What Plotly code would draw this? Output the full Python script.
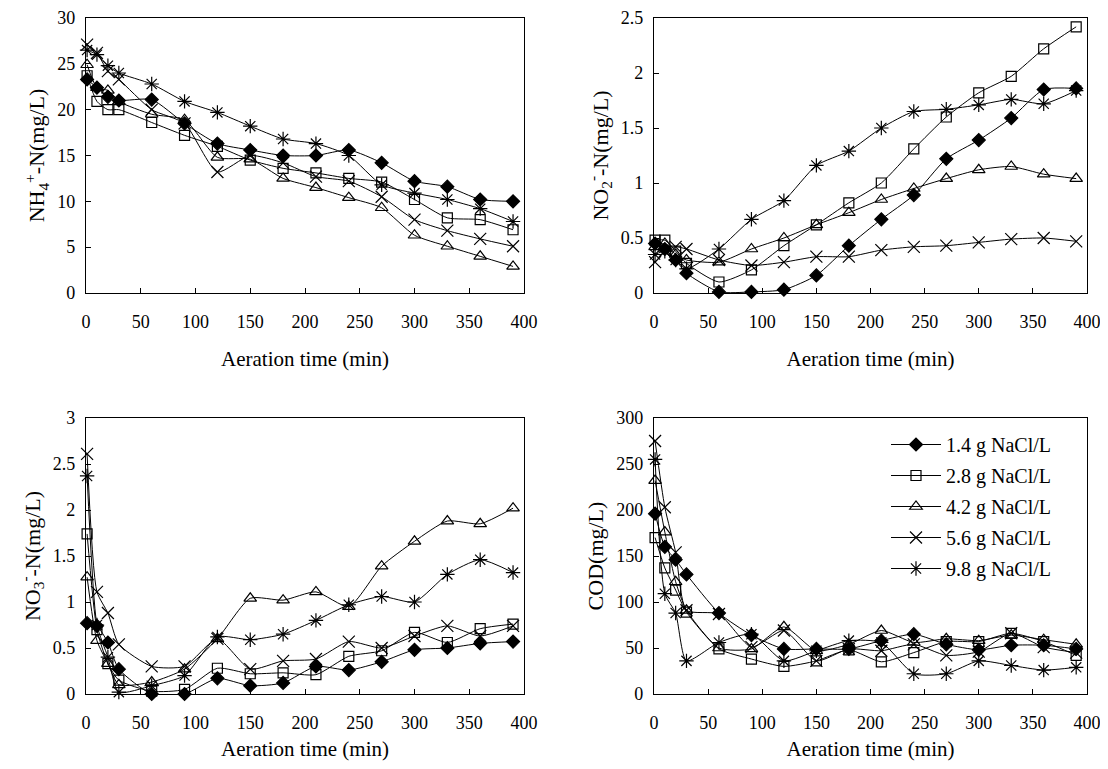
import plotly.graph_objects as go
from plotly.subplots import make_subplots

time_min = [1, 10, 20, 30, 60, 90, 120, 150, 180, 210, 240, 270, 300, 330, 360, 390]
series_names = ["1.4 g NaCl/L", "2.8 g NaCl/L", "4.2 g NaCl/L", "5.6 g NaCl/L", "9.8 g NaCl/L"]

nh4 = [
    [23.3, 22.4, 21.4, 21.0, 21.1, 18.5, 16.3, 15.6, 15.0, 15.0, 15.6, 14.2, 12.2, 11.6, 10.2, 10.0],
    [23.7, 20.9, 20.0, 20.0, 18.6, 17.2, 16.0, 14.5, 13.6, 13.1, 12.5, 12.1, 10.2, 8.2, 8.0, 6.9],
    [24.9, 22.4, 22.1, 20.9, 19.5, 18.9, 14.8, 14.6, 12.5, 11.5, 10.4, 9.3, 6.3, 5.1, 4.0, 2.9],
    [27.1, 26.2, 24.2, 23.3, 20.0, 18.5, 13.2, 15.0, 14.2, 12.7, 12.2, 10.5, 8.0, 6.8, 5.9, 5.1],
    [26.5, 26.0, 24.8, 24.0, 22.8, 20.9, 19.7, 18.2, 16.8, 16.3, 15.0, 11.8, 10.9, 10.2, 9.2, 7.8],
]
no2 = [
    [0.45, 0.40, 0.30, 0.18, 0.01, 0.01, 0.03, 0.16, 0.43, 0.67, 0.89, 1.22, 1.39, 1.59, 1.85, 1.86],
    [0.48, 0.48, 0.38, 0.27, 0.10, 0.21, 0.43, 0.62, 0.82, 1.00, 1.31, 1.60, 1.82, 1.97, 2.22, 2.42],
    [0.42, 0.45, 0.35, 0.30, 0.28, 0.40, 0.50, 0.62, 0.73, 0.85, 0.95, 1.04, 1.12, 1.15, 1.08, 1.04],
    [0.28, 0.38, 0.42, 0.40, 0.30, 0.25, 0.28, 0.33, 0.33, 0.39, 0.42, 0.43, 0.46, 0.49, 0.50, 0.47],
    [0.35, 0.38, 0.30, 0.22, 0.40, 0.67, 0.84, 1.16, 1.29, 1.50, 1.65, 1.67, 1.71, 1.76, 1.72, 1.84],
]
no3 = [
    [0.77, 0.74, 0.56, 0.27, 0.00, 0.00, 0.17, 0.09, 0.12, 0.30, 0.26, 0.35, 0.48, 0.50, 0.55, 0.57],
    [1.74, 0.70, 0.33, 0.15, 0.03, 0.05, 0.28, 0.22, 0.23, 0.21, 0.41, 0.47, 0.67, 0.56, 0.71, 0.76],
    [1.27, 0.58, 0.33, 0.10, 0.13, 0.27, 0.60, 1.04, 1.02, 1.11, 0.95, 1.39, 1.66, 1.88, 1.85, 2.02],
    [2.61, 1.11, 0.88, 0.54, 0.30, 0.30, 0.60, 0.27, 0.36, 0.38, 0.57, 0.50, 0.63, 0.74, 0.63, 0.74],
    [2.37, 0.75, 0.40, 0.02, 0.09, 0.20, 0.62, 0.59, 0.65, 0.80, 0.97, 1.06, 1.00, 1.30, 1.46, 1.32],
]
cod = [
    [196, 160, 146, 130, 88, 64, 49, 49, 49, 58, 65, 54, 48, 53, 53, 49],
    [170, 137, 113, 89, 49, 38, 30, 36, 48, 35, 45, 57, 57, 66, 57, 42],
    [232, 176, 122, 91, 50, 49, 73, 47, 54, 69, 56, 60, 58, 64, 59, 54],
    [275, 203, 154, 91, 87, 51, 69, 36, 49, 47, 54, 42, 46, 66, 51, 45],
    [255, 109, 88, 36, 56, 65, 36, 47, 58, 56, 22, 22, 36, 31, 26, 29],
]

y_titles = ["NH<sub>4</sub><sup>+</sup>-N(mg/L)", "NO<sub>2</sub><sup>-</sup>-N(mg/L)",
            "NO<sub>3</sub><sup>-</sup>-N(mg/L)", "COD(mg/L)"]
y_ranges = [[0, 30], [0, 2.5], [0, 3], [0, 300]]
y_dticks = [5, 0.5, 0.5, 50]

symbols = ["diamond", "square-open", "triangle-up-open", "x-thin-open", "asterisk-open"]
sizes = [10, 10, 11, 12, 12]

fig = make_subplots(rows=2, cols=2)
datasets = [nh4, no2, no3, cod]
pos = [(1, 1), (1, 2), (2, 1), (2, 2)]
for k, data in enumerate(datasets):
    r, c = pos[k]
    for i, vals in enumerate(data):
        fig.add_trace(go.Scatter(
            x=time_min, y=vals, mode="lines+markers", name=series_names[i],
            legendgroup=series_names[i], showlegend=(k == 3),
            line=dict(color="black", width=1, shape="spline", smoothing=0.6),
            marker=dict(symbol=symbols[i], size=sizes[i], color="black",
                        line=dict(color="black", width=1.2)),
            cliponaxis=False,
        ), row=r, col=c)

font_family = "Liberation Serif"
W, H = 1100, 753
xdom = [[78 / W, 516 / W], [646 / W, 1079 / W]]
ydom = [[1 - 285 / H, 1 - 10 / H], [1 - 686 / H, 1 - 410 / H]]
title_standoff = {1: 20, 2: 14}
for k in range(4):
    r, c = pos[k]
    fig.update_xaxes(row=r, col=c, domain=xdom[c - 1], range=[0, 400], dtick=50,
                     automargin=False,
                     ticks="inside", ticklen=5, tickcolor="black", showline=True,
                     linecolor="black", linewidth=1.2, mirror=True, showgrid=False,
                     zeroline=False, ticklabelstandoff=12,
                     title=dict(text="Aeration time (min)", standoff=title_standoff[r],
                                font=dict(size=21, family=font_family)),
                     tickfont=dict(size=18, family=font_family, color="black"))
    fig.update_yaxes(row=r, col=c, domain=ydom[r - 1], range=y_ranges[k], dtick=y_dticks[k],
                     automargin=False,
                     ticks="inside", ticklen=5, tickcolor="black", showline=True,
                     linecolor="black", linewidth=1.2, mirror=True, showgrid=False,
                     zeroline=False, ticklabelstandoff=6,
                     title=dict(text=y_titles[k], standoff=6,
                                font=dict(size=22, family=font_family)),
                     tickfont=dict(size=18, family=font_family, color="black"))

fig.update_layout(
    width=W, height=H, margin=dict(l=0, r=0, t=0, b=0),
    paper_bgcolor="white", plot_bgcolor="white",
    font=dict(family=font_family, size=18, color="black"),
    legend=dict(x=878 / W, y=1 - 417 / H, xanchor="left", yanchor="top",
                bgcolor="rgba(0,0,0,0)", tracegroupgap=2, itemwidth=50,
                font=dict(size=20, family=font_family)),
)
fig.write_html("out.html")
